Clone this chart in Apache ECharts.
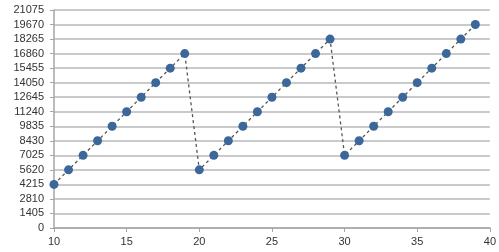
<!DOCTYPE html>
<html><head><meta charset="utf-8">
<script src="https://cdn.jsdelivr.net/npm/echarts@6/dist/echarts.min.js"></script>
<style>html,body{margin:0;padding:0;background:#fff}#c{width:499px;height:252px}</style>
</head><body><div id="c"></div>
<script>
const xValues = [10,11,12,13,14,15,16,17,18,19,20,21,22,23,24,25,26,27,28,29,30,31,32,33,34,35,36,37,38,39];
const yValues = [4215,5620,7025,8430,9835,11240,12645,14050,15455,16860,
                 5620,7025,8430,9835,11240,12645,14050,15455,16860,18265,
                 7025,8430,9835,11240,12645,14050,15455,16860,18265,19670];
const yTickInterval = 1405;
const yMax = 21075;
const xMin = 10, xMax = 40, xInterval = 5;

const chart = echarts.init(document.getElementById('c'), null, {renderer:'canvas'});
chart.setOption({
  animation:false,
  backgroundColor:'#fff',
  grid:{left:54,right:9,top:10,bottom:24,containLabel:false},
  xAxis:{type:'value',min:xMin,max:xMax,interval:xInterval,
    axisLine:{show:true,lineStyle:{color:'#a6a6a6',width:1.5}},
    axisTick:{show:true,length:4,lineStyle:{color:'#a6a6a6'}},
    axisLabel:{color:'#333',fontSize:11,fontFamily:'Liberation Sans, Arial',margin:8,formatter:v=>String(v)},
    splitLine:{show:false}},
  yAxis:{type:'value',min:0,max:yMax,interval:yTickInterval,
    axisLine:{show:true,lineStyle:{color:'#a6a6a6',width:1.5}},
    axisTick:{show:true,length:4,lineStyle:{color:'#a6a6a6'}},
    axisLabel:{color:'#333',fontSize:11,fontFamily:'Liberation Sans, Arial',margin:10,formatter:v=>String(v)},
    splitLine:{show:true,lineStyle:{color:'#b8b8b8',width:1.5}}},
  series:[{type:'line',data:xValues.map((x,i)=>[x,yValues[i]]),
    symbol:'circle',symbolSize:9,
    itemStyle:{color:'#3c679b'},
    lineStyle:{color:'#555',width:1.3,type:[3,3]}}]
});
</script></body></html>
